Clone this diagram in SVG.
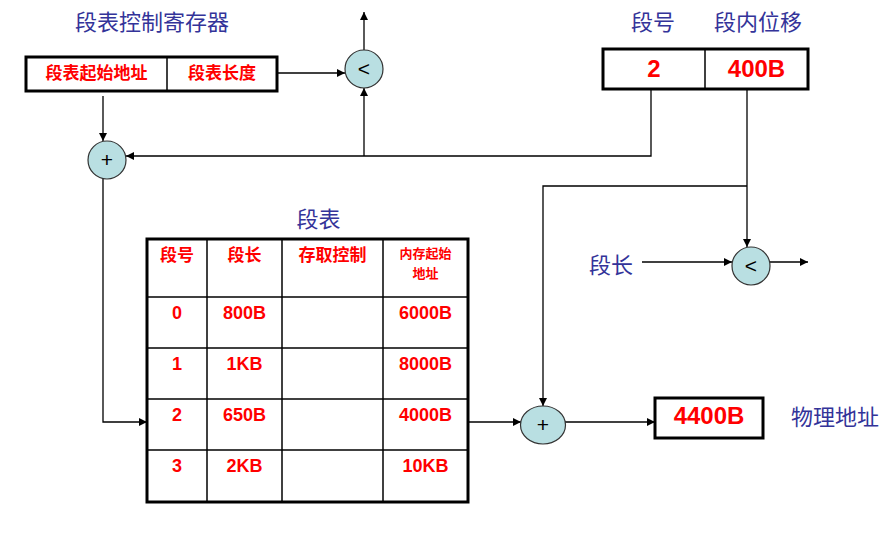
<svg xmlns="http://www.w3.org/2000/svg" width="894" height="535" viewBox="0 0 894 535">
<defs>
<marker id="arr" viewBox="0 0 10 10" refX="10" refY="5" markerWidth="8" markerHeight="8" markerUnits="userSpaceOnUse" orient="auto">
<path d="M0,0 L10,5 L0,10 z" fill="#000"/>
</marker>
<style>
.lbl{font-family:"Noto Sans CJK SC","Noto Sans",sans-serif;font-size:22px;fill:#333399;text-anchor:middle}
.red{font-family:"Liberation Sans","Noto Sans CJK SC",sans-serif;font-weight:bold;fill:#ff0000;text-anchor:middle}
.redc{font-family:"Noto Sans CJK SC",sans-serif;font-weight:bold;fill:#ff0000;text-anchor:middle}
.op{font-family:"Liberation Sans",sans-serif;font-size:21px;fill:#000;text-anchor:middle}
.thick{fill:#fff;stroke:#000;stroke-width:3}
.thin{stroke:#000;stroke-width:1.5;fill:none}
.circ{fill:#b9dfe2;stroke:#333;stroke-width:1.2}
.wire{stroke:#000;stroke-width:1.3;fill:none}
</style>
</defs>
<rect width="894" height="535" fill="#fff"/>

<g id="connectors">
<line class="wire" x1="277" y1="73" x2="345" y2="73" marker-end="url(#arr)"/>
<line class="wire" x1="364" y1="50" x2="364" y2="12" marker-end="url(#arr)"/>
<line class="wire" x1="364" y1="156" x2="364" y2="88" marker-end="url(#arr)"/>
<polyline class="wire" points="651,89 651,156 126,156" marker-end="url(#arr)"/>
<line class="wire" x1="103" y1="96" x2="103" y2="141" marker-end="url(#arr)"/>
<polyline class="wire" points="103,179 103,422 147,422" marker-end="url(#arr)"/>
<line class="wire" x1="747" y1="89" x2="747" y2="247" marker-end="url(#arr)"/>
<polyline class="wire" points="747,186 543,186 543,406" marker-end="url(#arr)"/>
<line class="wire" x1="642" y1="262" x2="732" y2="262" marker-end="url(#arr)"/>
<line class="wire" x1="770" y1="262" x2="808" y2="262" marker-end="url(#arr)"/>
<line class="wire" x1="468" y1="422" x2="521" y2="422" marker-end="url(#arr)"/>
<line class="wire" x1="565" y1="422" x2="655" y2="422" marker-end="url(#arr)"/>
</g>

<g id="title-reg">
<text class="lbl" x="152" y="30">段表控制寄存器</text>
</g>

<g id="seg-table-register">
<rect class="thick" x="26" y="57" width="251" height="34"/>
<line class="thin" x1="167" y1="57" x2="167" y2="91"/>
<text class="redc" x="96.5" y="79" font-size="17">段表起始地址</text>
<text class="redc" x="222" y="79" font-size="17">段表长度</text>
</g>

<g id="cmp-top">
<circle class="circ" cx="364" cy="69" r="19"/>
<text class="op" x="364" y="76">&lt;</text>
</g>

<g id="add-top">
<circle class="circ" cx="107" cy="160" r="19"/>
<text class="op" x="107" y="167">+</text>
</g>

<g id="logical-address">
<text class="lbl" x="653" y="30">段号</text>
<text class="lbl" x="758" y="30">段内位移</text>
<rect class="thick" x="603" y="49" width="205" height="40"/>
<line class="thin" x1="705" y1="49" x2="705" y2="89"/>
<text class="red" x="654" y="77" font-size="24">2</text>
<text class="red" x="756.5" y="77" font-size="24">400B</text>
</g>

<g id="seg-len-label">
<text class="lbl" x="611" y="273">段长</text>
</g>

<g id="cmp-right">
<circle class="circ" cx="751" cy="266" r="19"/>
<text class="op" x="751" y="273">&lt;</text>
</g>

<g id="segment-table">
<text class="lbl" x="318.5" y="227">段表</text>
<rect class="thick" x="147" y="239" width="321" height="263"/>
<line class="thin" x1="207" y1="239" x2="207" y2="502"/>
<line class="thin" x1="282" y1="239" x2="282" y2="502"/>
<line class="thin" x1="383" y1="239" x2="383" y2="502"/>
<line class="thin" x1="147" y1="297" x2="468" y2="297"/>
<line class="thin" x1="147" y1="348" x2="468" y2="348"/>
<line class="thin" x1="147" y1="399" x2="468" y2="399"/>
<line class="thin" x1="147" y1="450" x2="468" y2="450"/>
<text class="redc" x="177" y="261" font-size="17">段号</text>
<text class="redc" x="244.5" y="261" font-size="17">段长</text>
<text class="redc" x="332.5" y="261" font-size="17">存取控制</text>
<text class="redc" x="425.5" y="258" font-size="13">内存起始</text>
<text class="redc" x="425.5" y="278" font-size="13">地址</text>
<text class="red" x="177" y="319" font-size="18">0</text>
<text class="red" x="244.5" y="319" font-size="18">800B</text>
<text class="red" x="425.5" y="319" font-size="18">6000B</text>
<text class="red" x="177" y="370" font-size="18">1</text>
<text class="red" x="244.5" y="370" font-size="18">1KB</text>
<text class="red" x="425.5" y="370" font-size="18">8000B</text>
<text class="red" x="177" y="421" font-size="18">2</text>
<text class="red" x="244.5" y="421" font-size="18">650B</text>
<text class="red" x="425.5" y="421" font-size="18">4000B</text>
<text class="red" x="177" y="472" font-size="18">3</text>
<text class="red" x="244.5" y="472" font-size="18">2KB</text>
<text class="red" x="425.5" y="472" font-size="18">10KB</text>
</g>

<g id="add-bottom">
<ellipse class="circ" cx="543" cy="425" rx="22.5" ry="19"/>
<text class="op" x="543" y="432">+</text>
</g>

<g id="physical-address">
<rect class="thick" x="655" y="398" width="108" height="40"/>
<text class="red" x="709" y="424" font-size="24">4400B</text>
<text class="lbl" x="835" y="425">物理地址</text>
</g>
</svg>
